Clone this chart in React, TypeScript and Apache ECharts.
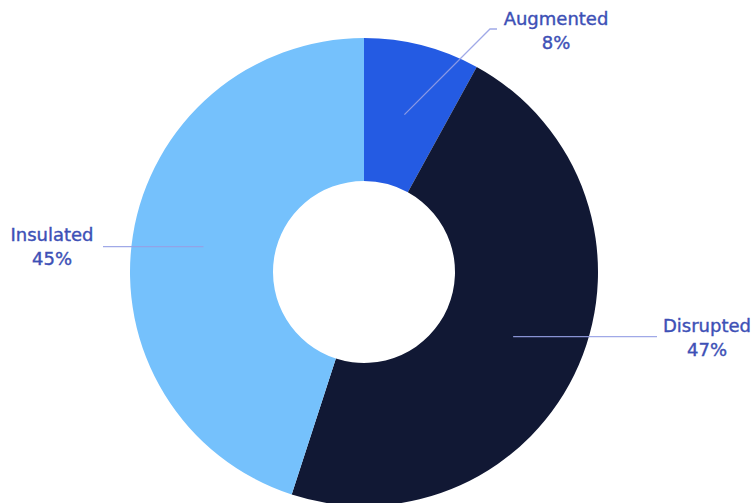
import React, { useEffect, useRef } from "react";
import * as echarts from "echarts";

const categories = ["Augmented", "Disrupted", "Insulated"];
const values = [8, 47, 45];
const colors = ["#245be3", "#111834", "#75c1fc"];

// layout of the annotation labels (pixel positions of label centres and line ends)
const labelCenters = [
  [556, 30],
  [707, 337],
  [52, 246],
];
const lineBends = [
  [[490, 29], [497, 29]],
  [[657, null]],
  [[103, null]],
];

const CX = 364;
const CY = 272;
const R_IN = 91;
const R_OUT = 234;
const R_MID = (R_IN + R_OUT) / 2;

export default function App() {
  const ref = useRef<HTMLDivElement>(null);
  useEffect(() => {
    if (!ref.current) return;
    const chart = echarts.init(ref.current, null, { renderer: "svg" });
    const total = values.reduce((a, b) => a + b, 0);
    const starts: number[] = [];
    let acc = 0;
    values.forEach((v) => {
      starts.push(acc);
      acc += v;
    });
    const anchor = (i: number) => {
      const mid = ((starts[i] + values[i] / 2) / total) * Math.PI * 2;
      return [CX + R_MID * Math.sin(mid), CY - R_MID * Math.cos(mid)];
    };
    const data = categories.map((c, i) => ({
      name: c,
      value: values[i],
      itemStyle: { color: colors[i] },
    }));
    chart.setOption({
      animation: false,
      series: [
        {
          type: "pie",
          center: [CX, CY],
          radius: [R_IN, R_OUT],
          startAngle: 90,
          clockwise: true,
          silent: true,
          label: { show: false },
          labelLine: { show: false },
          data,
          z: 1,
        },
        {
          type: "pie",
          center: [CX, CY],
          radius: [0, R_MID],
          startAngle: 90,
          clockwise: true,
          silent: true,
          avoidLabelOverlap: false,
          z: 5,
          itemStyle: { color: "rgba(0,0,0,0)" },
          data: categories.map((c, i) => ({ name: c, value: values[i] })),
          label: {
            show: true,
            position: "outside",
            formatter: "{b}\n{d}%",
            color: "#3d50b6",
            fontFamily: "DejaVu Sans",
            fontSize: 18,
            lineHeight: 24,
            align: "center",
            textBorderColor: "#3d50b6",
            textBorderWidth: 0.4,
          },
          labelLine: {
            show: true,
            lineStyle: { color: "rgba(150,160,228,0.9)", width: 1.3 },
          },
          labelLayout: (params: any) => {
            const i = params.dataIndex;
            const a = anchor(i);
            const pts: number[][] = [a];
            lineBends[i].forEach((p) => {
              pts.push([p[0] as number, p[1] == null ? a[1] : (p[1] as number)]);
            });
            return {
              x: labelCenters[i][0],
              y: labelCenters[i][1],
              align: "center",
              verticalAlign: "middle",
              labelLinePoints: pts,
            };
          },
        },
      ],
    });
    return () => chart.dispose();
  }, []);
  return (
    <div
      ref={ref}
      style={{ position: "fixed", left: 0, top: 0, width: 756, height: 503, background: "#fff" }}
    />
  );
}
